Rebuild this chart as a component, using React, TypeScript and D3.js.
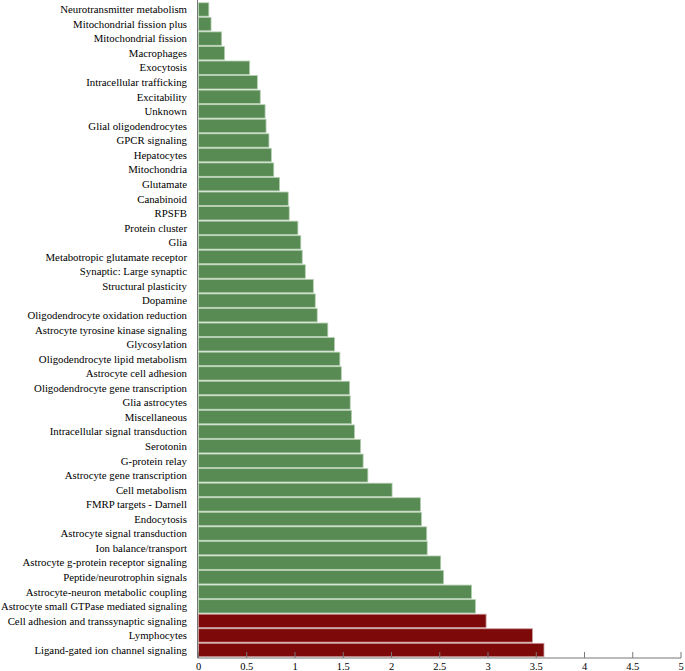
import React, { useLayoutEffect, useRef } from "react";
import * as d3 from "d3";

const categories = [
  "Neurotransmitter metabolism",
  "Mitochondrial fission plus",
  "Mitochondrial fission",
  "Macrophages",
  "Exocytosis",
  "Intracellular trafficking",
  "Excitability",
  "Unknown",
  "Glial oligodendrocytes",
  "GPCR signaling",
  "Hepatocytes",
  "Mitochondria",
  "Glutamate",
  "Canabinoid",
  "RPSFB",
  "Protein cluster",
  "Glia",
  "Metabotropic glutamate receptor",
  "Synaptic: Large synaptic",
  "Structural plasticity",
  "Dopamine",
  "Oligodendrocyte oxidation reduction",
  "Astrocyte tyrosine kinase signaling",
  "Glycosylation",
  "Oligodendrocyte lipid metabolism",
  "Astrocyte cell adhesion",
  "Oligodendrocyte gene transcription",
  "Glia astrocytes",
  "Miscellaneous",
  "Intracellular signal transduction",
  "Serotonin",
  "G-protein relay",
  "Astrocyte gene transcription",
  "Cell metabolism",
  "FMRP targets - Darnell",
  "Endocytosis",
  "Astrocyte signal transduction",
  "Ion balance/transport",
  "Astrocyte g-protein receptor signaling",
  "Peptide/neurotrophin signals",
  "Astrocyte-neuron metabolic coupling",
  "Astrocyte small GTPase mediated signaling",
  "Cell adhesion and transsynaptic signaling",
  "Lymphocytes",
  "Ligand-gated ion channel signaling",
];

const values = [
  0.107, 0.13, 0.24, 0.27, 0.53, 0.61, 0.64, 0.69, 0.7, 0.73, 0.755, 0.78,
  0.84, 0.93, 0.94, 1.03, 1.06, 1.075, 1.107, 1.19, 1.21, 1.23, 1.34, 1.41,
  1.465, 1.48, 1.566, 1.572, 1.586, 1.617, 1.68, 1.706, 1.755, 2.006, 2.3,
  2.31, 2.365, 2.37, 2.51, 2.54, 2.83, 2.87, 2.98, 3.46, 3.58,
];

const significant = [
  false, false, false, false, false, false, false, false, false, false, false,
  false, false, false, false, false, false, false, false, false, false, false,
  false, false, false, false, false, false, false, false, false, false, false,
  false, false, false, false, false, false, false, false, false, true, true,
  true,
];

const xTicks = [0, 0.5, 1, 1.5, 2, 2.5, 3, 3.5, 4, 4.5, 5];

const W = 685;
const H = 671;
const FONT = "'Liberation Serif', 'DejaVu Serif', serif";
const LABEL_X = 187;
const MAX_LABEL = 186;

export default function App() {
  const labelsRef = useRef<SVGGElement | null>(null);
  const x = d3.scaleLinear().domain([0, 5]).range([198.5, 681]);
  const y = d3
    .scaleBand<string>()
    .domain(categories)
    .range([2.5, 657])
    .paddingInner(0.08)
    .paddingOuter(0.02);
  const axisY = 658;

  useLayoutEffect(() => {
    if (!labelsRef.current) return;
    d3.select(labelsRef.current)
      .selectAll<SVGTextElement, unknown>("text")
      .each(function () {
        const len = this.getComputedTextLength();
        if (len > MAX_LABEL) {
          this.setAttribute("textLength", String(MAX_LABEL));
          this.setAttribute("lengthAdjust", "spacingAndGlyphs");
        }
      });
  }, []);

  return (
    <div style={{ position: "absolute", left: 0, top: 0 }}>
      <svg width={W} height={H} style={{ display: "block", background: "#fff" }}>
        {categories.map((c, i) => (
          <rect
            key={c}
            x={x(0)}
            y={y(c)!}
            width={x(values[i]) - x(0)}
            height={y.bandwidth()}
            fill={significant[i] ? "#7d0909" : "#588b53"}
            stroke={significant[i] ? "#c89a9a" : "#b5cfb1"}
            strokeWidth={0.8}
          />
        ))}
        <g ref={labelsRef}>
          {categories.map((c) => (
            <text
              key={"l" + c}
              x={LABEL_X}
              y={y(c)! + y.bandwidth() / 2}
              dy="0.35em"
              textAnchor="end"
              fontFamily={FONT}
              fontSize={10.8}
              fill="#000"
            >
              {c}
            </text>
          ))}
        </g>
        <line x1={x(0) - 1} x2={x(0) - 1} y1={0} y2={axisY} stroke="#777" strokeWidth={1} />
        <line x1={x(0) - 1} x2={x(5)} y1={axisY} y2={axisY} stroke="#777" strokeWidth={1} />
        {xTicks.map((t) => (
          <g key={"t" + t}>
            <line x1={x(t)} x2={x(t)} y1={axisY - 6} y2={axisY} stroke="#777" strokeWidth={1} />
            <text
              x={x(t)}
              y={669.5}
              textAnchor="middle"
              fontFamily={FONT}
              fontSize={10.5}
              fill="#000"
            >
              {t}
            </text>
          </g>
        ))}
      </svg>
    </div>
  );
}
